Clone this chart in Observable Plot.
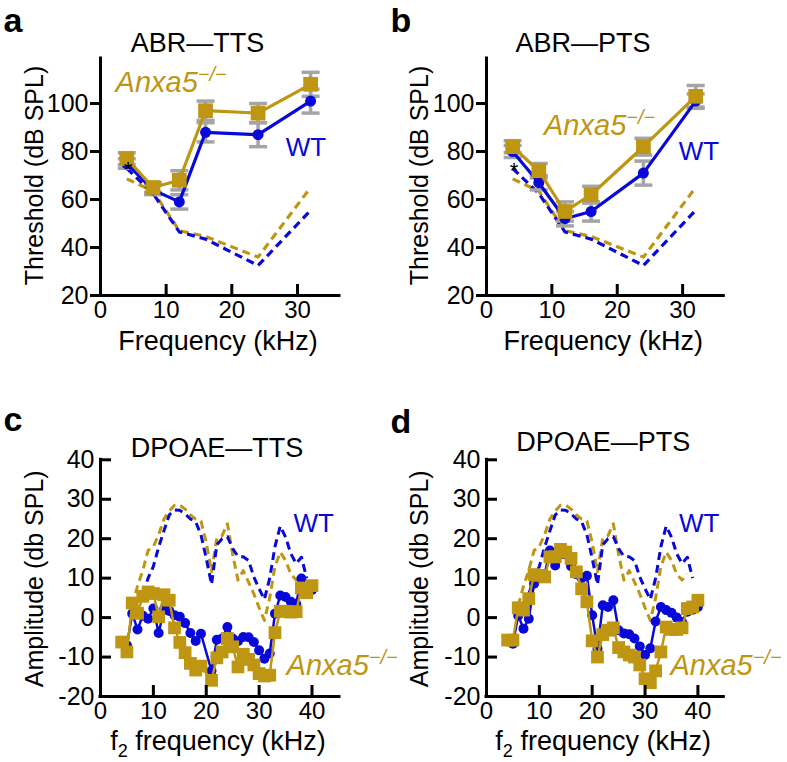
<!DOCTYPE html>
<html><head><meta charset="utf-8">
<script src="https://cdn.jsdelivr.net/npm/d3@7"></script>
<script src="https://cdn.jsdelivr.net/npm/@observablehq/plot@0.6"></script>
<style>
body{margin:0;background:#fff;}
#root{position:relative;width:787px;height:762px;overflow:hidden;background:#fff;}
.panel{position:absolute;}
.panel svg{overflow:visible;}
</style></head><body><div id="root"></div>
<script>
const GOLD = "#BE9612", BLUE = "#0808D8", GREY = "#A5A5A5";

// ---------- ABR (panels a, b) ----------
const abrFreq = [4, 8, 12, 16, 24, 32];
const abrTTS_wt = [75, 64, 59, 88, 87, 101];
const abrTTS_wtErr = [2, 2, 3, 4, 5, 5];
const abrTTS_ko = [77, 65, 68, 97, 96, 108];
const abrTTS_koErr = [2.5, 2, 4, 4, 4, 5];
const abrPTS_wt = [80, 67, 52, 55, 71, 101];
const abrPTS_wtErr = [2.5, 3, 3, 4, 5, 3];
const abrPTS_ko = [82, 72, 55, 62, 82, 103];
const abrPTS_koErr = [2.5, 3, 4, 3.5, 3.5, 4.5];
const abrBase_wt = [73, 62.5, 46.5, 43.5, 32.5, 55.5];
const abrBase_ko = [68.6, 63.5, 47, 44.6, 36, 65];

// ---------- DPOAE (panels c, d) ----------
const f2 = [4,5,6,7,8,9,10,11,12,13,14,15,16,17,18,19,20,21,22,23,24,25,26,27,28,29,30,31,32,33,34,35,36,37,38,39,40];
const dpTTS_wt = [null,-7,1,-3,0.5,-0.3,2.3,-3.9,2,1.7,0.6,0.2,-1.4,-3.9,-5.9,-4.1,null,-13.5,-5.6,-5.3,-2.4,-5.3,-6,-4.9,-5,-6.2,-8.3,-10.4,-9.1,1,5.6,5.2,4,3.5,9.9,7.5,7];
const dpTTS_ko = [-6.2,-8.7,3.7,1.1,5.4,6.5,6.1,0.2,5.8,4.4,-2.6,-6.3,-8.9,-11.6,-13.3,-12.3,null,-15.9,-10.2,-8.7,-5.3,-7.4,-12.5,-9.3,-10.6,-12,-14.2,-14.8,-14.6,-3.8,1.6,1.6,1.4,1.5,7.5,6.3,8.1];
const dpPTS_wt = [null,-6.6,0.5,-2.8,-0.3,8.6,10,11,17,13.2,16,16,13,11,10,10.6,0.6,-7.9,3.1,2.7,4.4,-3.2,-4,-4.2,-5.3,-7.3,-9.5,-7.8,-1,2.7,1.9,1.2,0,-1.1,1.5,2,2.7];
const dpPTS_ko = [-5.7,-5.7,2.5,1.9,4.8,10.9,10.7,10.3,15.4,15.4,17.3,16.6,15,11.6,7.3,4,-5.9,-10,-4.3,-3.2,-2.6,-7.6,-8.7,-9.5,-10,-12,-15.5,-16.5,-13.5,-8.7,-2.4,-3,-3,-2.6,2.3,2.7,4.4];
const dpBase_wt = [null,null,null,null,6,10,13,17.9,22,26,27.3,27.2,26.3,25,24.3,21,15,8.4,18.5,20,20.5,17.5,15.5,15.4,14.5,10.3,7.3,4.6,10,18,23.2,20.4,16.2,13.7,15.3,10,null];
const dpBase_ko = [null,null,3,8,12,17,18,21,25,27,28.5,28.5,27.5,26,25,24.5,19,11.6,20.2,20.8,23.8,16,9.5,11.9,9,6,2.5,-0.7,5,13,16.6,14.5,11,9.5,11,null,null];

// ---------- texts ----------
const panelLetters = ["a", "b", "c", "d"];
const panelTitles = ["ABR\u2014TTS", "ABR\u2014PTS", "DPOAE\u2014TTS", "DPOAE\u2014PTS"];
const xTitles = ["Frequency (kHz)", "Frequency (kHz)", "f2 frequency (kHz)", "f2 frequency (kHz)"];
const yTitles = ["Threshold (dB SPL)", "Threshold (dB SPL)", "Amplitude (db SPL)", "Amplitude (db SPL)"];
const abrXTicks = [0, 10, 20, 30];
const abrYTicks = [20, 40, 60, 80, 100];
const dpXTicks = [0, 10, 20, 30, 40];
const dpYTicks = [-20, -10, 0, 10, 20, 30, 40];
// label anchors in data coordinates [x, y]
const koLabelPos = [[2.3, 104.7], [8.8, 86.7], [35.2, -14.6], [34.8, -14.6]];
const wtLabelPos = [[28.2, 78.3], [29.4, 76.3], [36.5, 21.7], [36.4, 21.7]];
const starPos = [[4.2, 75], [4.2, 74.2]];

const capSymbol = {draw(ctx, size) { const w = Math.sqrt(size / Math.PI); ctx.moveTo(-w, 0); ctx.lineTo(w, 0); }};

function series(x, y, e) {
  const out = [];
  x.forEach((f, i) => { if (y[i] != null) out.push({f, v: y[i], e: e ? e[i] : 0}); });
  return out;
}

function makePanel(p) {
  const marks = [];
  for (const b of p.base) {
    marks.push(Plot.line(series(p.xs, b.y), {x: "f", y: "v", stroke: b.color, strokeWidth: p.dashW, strokeDasharray: p.dash, strokeLinecap: "butt"}));
  }
  for (const s of p.series) {
    if (s.e) {
      const d = series(p.xs, s.y, s.e);
      marks.push(Plot.ruleX(d, {x: "f", y1: r => r.v - r.e, y2: r => r.v + r.e, stroke: GREY, strokeWidth: 3.5}));
      marks.push(Plot.dot(d, {x: "f", y: r => r.v + r.e, symbol: capSymbol, r: 9, stroke: GREY, strokeWidth: 3.5, fill: "none"}));
      marks.push(Plot.dot(d, {x: "f", y: r => r.v - r.e, symbol: capSymbol, r: 9, stroke: GREY, strokeWidth: 3.5, fill: "none"}));
    }
  }
  for (const s of p.series) {
    const d = series(p.xs, s.y);
    marks.push(Plot.line(d, {x: "f", y: "v", stroke: s.color, strokeWidth: p.lineW}));
    marks.push(Plot.dot(d, {x: "f", y: "v", symbol: s.symbol, r: s.r, fill: s.color, stroke: "none"}));
  }
  // axes
  marks.push(Plot.ruleY([p.yDomain[0]], {stroke: "#000", strokeWidth: 3, strokeLinecap: "square"}));
  marks.push(Plot.ruleX([0], {stroke: "#000", strokeWidth: 3, strokeLinecap: "square"}));
  marks.push(Plot.axisX({ticks: p.xTicks, tickSize: -11, tickPadding: p.xPad, strokeWidth: 3, tickFormat: d => String(d), label: null, fontSize: p.xTickFont}));
  marks.push(Plot.axisY({ticks: p.yTicks, tickSize: p.yTickSize, tickPadding: p.yPad, strokeWidth: 3, tickFormat: d => String(d), label: null, fontSize: 25}));
  // titles
  marks.push(Plot.text([p.xTitle], {text: d => d, frameAnchor: "bottom", textAnchor: "middle", lineAnchor: "bottom", dy: p.xTitleDy, dx: -2, fontSize: p.xTitleFont}));
  marks.push(Plot.text([p.yTitle], {text: d => d, frameAnchor: "left", textAnchor: "middle", lineAnchor: "top", rotate: -90, dx: p.yTitleDx, dy: p.yTitleDy, fontSize: 25}));
  marks.push(Plot.text([p.title], {text: d => d, frameAnchor: "top", textAnchor: "middle", lineAnchor: "bottom", dx: p.titleDx, dy: p.titleDy, fontSize: 27}));
  marks.push(Plot.text([p.letter], {text: d => d, frameAnchor: "top-left", textAnchor: "start", lineAnchor: "bottom", dx: p.letterDx, dy: p.letterDy, fontSize: 34, fontWeight: "bold"}));
  // annotations
  marks.push(Plot.text([p.koPos], {x: d => d[0], y: d => d[1], text: () => "Anxa5", fill: GOLD, fontStyle: "italic", fontSize: 29, textAnchor: "start", lineAnchor: "bottom"}));
  marks.push(Plot.text([p.wtPos], {x: d => d[0], y: d => d[1], text: () => "WT", fill: BLUE, fontSize: 26, textAnchor: "start", lineAnchor: "bottom"}));
  if (p.star) marks.push(Plot.text([p.star], {x: d => d[0], y: d => d[1], text: () => "*", fill: "#000", fontSize: 22, lineAnchor: "middle", dy: 6}));

  const svg = Plot.plot({
    width: p.width, height: p.height,
    marginLeft: p.mL, marginRight: p.mR, marginTop: p.mT, marginBottom: p.mB,
    x: {domain: p.xDomain},
    y: {domain: p.yDomain},
    style: {fontFamily: "'Liberation Sans', Arial, sans-serif", fontSize: "25px", color: "#000", background: "transparent", overflow: "visible"},
    marks
  });
  svg.querySelectorAll("text").forEach(t => {
    if (t.textContent === "Anxa5") {
      const s = document.createElementNS("http://www.w3.org/2000/svg", "tspan");
      s.setAttribute("dy", "-11"); s.setAttribute("font-size", "20"); s.textContent = "\u2212/\u2212";
      t.appendChild(s);
    } else if (t.textContent === "f2 frequency (kHz)") {
      t.textContent = "f";
      const s = document.createElementNS("http://www.w3.org/2000/svg", "tspan");
      s.setAttribute("dy", "7"); s.setAttribute("font-size", "18"); s.textContent = "2";
      const r = document.createElementNS("http://www.w3.org/2000/svg", "tspan");
      r.setAttribute("dy", "-7"); r.textContent = " frequency (kHz)";
      t.appendChild(s); t.appendChild(r);
    }
  });
  const div = document.createElement("div");
  div.className = "panel";
  div.style.left = p.left + "px"; div.style.top = p.top + "px";
  div.appendChild(svg);
  document.getElementById("root").appendChild(div);
}

const abrCommon = {xs: abrFreq, width: 390, height: 360, mL: 100, mT: 58, mB: 65, yDomain: [20, 118.75],
  xTicks: abrXTicks, yTicks: abrYTicks, yTickSize: 10, yPad: 2, xPad: 16, xTickFont: 24, lineW: 3.2, dashW: 3.2, dash: "8,5",
  xTitleDy: 54, xTitleFont: 27, yTitleDy: -1.5, titleDy: -6.3};
const dpCommon = {xs: f2, width: 390, height: 382, mL: 100, mT: 79.3, mB: 66, yDomain: [-20, 40],
  xTicks: dpXTicks, yTicks: dpYTicks, yTickSize: -11, yPad: 17, xPad: 16, xTickFont: 24, lineW: 2.5, dashW: 3, dash: "8,5",
  xTitleDy: 53, xTitleFont: 27, yTitleDy: 0.6};

makePanel({...abrCommon, left: 0, top: 0, mR: 51, xDomain: [0, 36.4], letter: panelLetters[0], title: panelTitles[0],
  xTitle: xTitles[0], yTitle: yTitles[0], yTitleDx: -75, titleDx: -22.5, letterDx: -97, letterDy: -27,
  koPos: koLabelPos[0], wtPos: wtLabelPos[0], star: starPos[0],
  base: [{y: abrBase_ko, color: GOLD}, {y: abrBase_wt, color: BLUE}],
  series: [{y: abrTTS_wt, e: abrTTS_wtErr, color: BLUE, symbol: "circle", r: 5.5}, {y: abrTTS_ko, e: abrTTS_koErr, color: GOLD, symbol: "square", r: 8.3}]});

makePanel({...abrCommon, left: 386, top: 0, mR: 52.7, xDomain: [0, 36.3], letter: panelLetters[1], title: panelTitles[1],
  xTitle: xTitles[1], yTitle: yTitles[1], yTitleDx: -76, titleDx: -22.2, letterDx: -96, letterDy: -27,
  koPos: koLabelPos[1], wtPos: wtLabelPos[1], star: starPos[1],
  base: [{y: abrBase_ko, color: GOLD}, {y: abrBase_wt, color: BLUE}],
  series: [{y: abrPTS_wt, e: abrPTS_wtErr, color: BLUE, symbol: "circle", r: 5.5}, {y: abrPTS_ko, e: abrPTS_koErr, color: GOLD, symbol: "square", r: 8.3}]});

makePanel({...dpCommon, left: 0, top: 380, mR: 51, xDomain: [0, 45.2], letter: panelLetters[2], title: panelTitles[2],
  xTitle: xTitles[2], yTitle: yTitles[2], yTitleDx: -75, titleDx: -3, titleDy: -2.6, letterDx: -97, letterDy: -29.3,
  koPos: koLabelPos[2], wtPos: wtLabelPos[2],
  base: [{y: dpBase_ko, color: GOLD}, {y: dpBase_wt, color: BLUE}],
  series: [{y: dpTTS_wt, color: BLUE, symbol: "circle", r: 5}, {y: dpTTS_ko, color: GOLD, symbol: "square", r: 7.2}]});

makePanel({...dpCommon, left: 386, top: 380, mR: 52.7, xDomain: [0, 44.9], letter: panelLetters[3], title: panelTitles[3],
  xTitle: xTitles[3], yTitle: yTitles[3], yTitleDx: -76, titleDx: -2, titleDy: -8.6, letterDx: -96, letterDy: -27,
  koPos: koLabelPos[3], wtPos: wtLabelPos[3],
  base: [{y: dpBase_ko, color: GOLD}, {y: dpBase_wt, color: BLUE}],
  series: [{y: dpPTS_wt, color: BLUE, symbol: "circle", r: 5}, {y: dpPTS_ko, color: GOLD, symbol: "square", r: 7.2}]});
</script></body></html>
